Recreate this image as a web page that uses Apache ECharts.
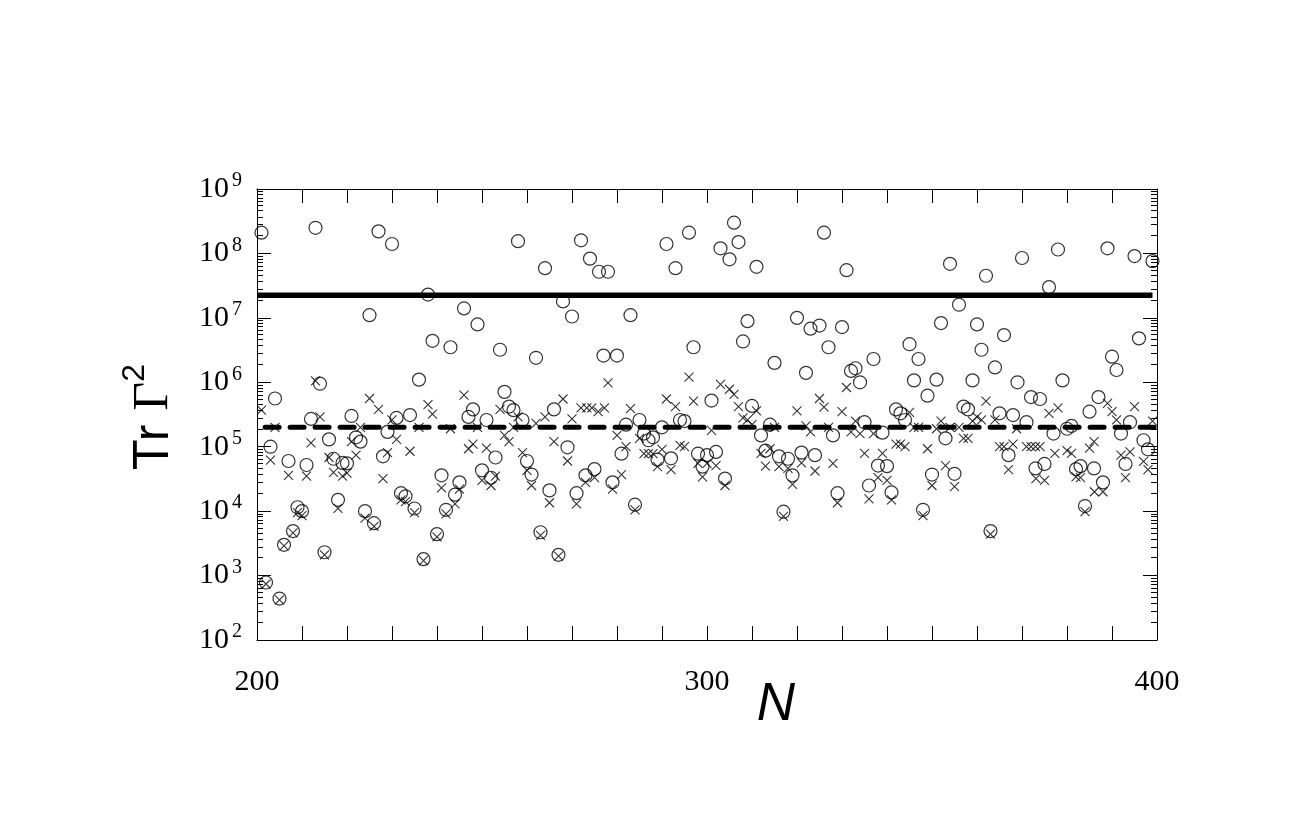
<!DOCTYPE html>
<html>
<head>
<meta charset="utf-8">
<script src="https://cdn.jsdelivr.net/npm/echarts@6/dist/echarts.min.js"></script>
<style>html,body{margin:0;padding:0;background:#fff}</style>
</head>
<body>
<div id="main" style="width:1292px;height:834px"></div>
<script>
// labelled ticks on the N axis
var xLabels = [200, 300, 400];

// circles: [N, Tr Gamma^2]
var circles = [
  [201,2.1e8],[202,7.8e2],[203,1.0e5],[204,5.6e5],[205,4.4e2],[206,3.0e3],[207,6.0e4],[208,4.9e3],[209,1.15e4],[210,1.0e4],
  [211,5.2e4],[212,2.7e5],[213,2.5e8],[214,9.5e5],[215,2.3e3],[216,1.3e5],[217,6.5e4],[218,1.5e4],[219,5.6e4],[220,5.5e4],
  [221,3.0e5],[222,1.4e5],[223,1.2e5],[224,1.0e4],[225,1.1e7],[226,6.5e3],[227,2.2e8],[228,7.1e4],[229,1.7e5],[230,1.4e8],
  [231,2.8e5],[232,1.9e4],[233,1.7e4],[234,3.1e5],[235,1.1e4],[236,1.1e6],[237,1.8e3],[238,2.3e7],[239,4.4e6],[240,4.4e3],
  [241,3.6e4],[242,1.05e4],[243,3.5e6],[244,1.8e4],[245,2.8e4],[246,1.4e7],[247,2.9e5],[248,3.8e5],[249,7.9e6],[250,4.3e4],
  [251,2.6e5],[252,3.3e4],[253,6.8e4],[254,3.2e6],[255,7.1e5],[256,4.2e5],[257,3.7e5],[258,1.55e8],[259,2.6e5],[260,6.0e4],
  [261,3.7e4],[262,2.4e6],[263,4.7e3],[264,5.9e7],[265,2.1e4],[266,3.8e5],[267,2.1e3],[268,1.8e7],[269,9.8e4],[270,1.05e7],
  [271,1.9e4],[272,1.6e8],[273,3.6e4],[274,8.3e7],[275,4.5e4],[276,5.2e7],[277,2.6e6],[278,5.2e7],[279,2.8e4],[280,2.6e6],
  [281,7.8e4],[282,2.2e5],[283,1.1e7],[284,1.26e4],[285,2.6e5],[286,1.6e5],[287,1.26e5],[288,1.4e5],[289,6.3e4],[290,2.0e5],
  [291,1.4e8],[292,6.6e4],[293,5.9e7],[294,2.6e5],[295,2.5e5],[296,2.1e8],[297,3.5e6],[298,7.8e4],[299,4.9e4],[300,7.4e4],
  [301,5.2e5],[302,8.3e4],[303,1.2e8],[304,3.2e4],[305,8.1e7],[306,3.0e8],[307,1.5e8],[308,4.3e6],[309,8.9e6],[310,4.3e5],
  [311,6.2e7],[312,1.5e5],[313,8.7e4],[314,2.2e5],[315,2.0e6],[316,7.1e4],[317,9.8e3],[318,6.5e4],[319,3.6e4],[320,1.0e7],
  [321,8.1e4],[322,1.4e6],[323,6.8e6],[324,7.4e4],[325,7.6e6],[326,2.1e8],[327,3.5e6],[328,1.5e5],[329,1.9e4],[330,7.2e6],
  [331,5.5e7],[332,1.5e6],[333,1.65e6],[334,1.0e6],[335,2.4e5],[336,2.5e4],[337,2.3e6],[338,5.1e4],[339,1.65e5],[340,5.0e4],
  [341,1.95e4],[342,3.8e5],[343,3.3e5],[344,2.6e5],[345,3.9e6],[346,1.07e6],[347,2.3e6],[348,1.05e4],[349,6.2e5],[350,3.7e4],
  [351,1.1e6],[352,8.3e6],[353,1.35e5],[354,6.9e7],[355,3.8e4],[356,1.6e7],[357,4.2e5],[358,3.8e5],[359,1.07e6],[360,7.9e6],
  [361,3.2e6],[362,4.5e7],[363,4.9e3],[364,1.7e6],[365,3.3e5],[366,5.4e6],[367,7.4e4],[368,3.1e5],[369,1.0e6],[370,8.5e7],
  [371,2.4e5],[372,5.9e5],[373,4.6e4],[374,5.5e5],[375,5.4e4],[376,3.0e7],[377,1.6e5],[378,1.15e8],[379,1.07e6],[380,1.9e5],
  [381,2.1e5],[382,4.5e4],[383,5.0e4],[384,1.2e4],[385,3.5e5],[386,4.6e4],[387,5.9e5],[388,2.8e4],[389,1.2e8],[390,2.5e6],
  [391,1.55e6],[392,1.6e5],[393,5.4e4],[394,2.4e5],[395,9.1e7],[396,4.8e6],[397,1.26e5],[398,9.1e4],[399,7.6e7]
];

// crosses: [N, Tr Gamma^2]
var crosses = [
  [201,3.7e5],[202,7.4e2],[203,6.2e4],[204,2.0e5],[205,4.2e2],[206,2.9e3],[207,3.6e4],[208,4.6e3],[209,9.5e3],[210,8.5e3],
  [211,3.5e4],[212,1.15e5],[213,1.05e6],[214,2.9e5],[215,2.1e3],[216,6.8e4],[217,4.0e4],[218,1.1e4],[219,3.5e4],[220,3.9e4],
  [221,1.2e5],[222,7.4e4],[223,2.0e5],[224,7.8e3],[225,5.6e5],[226,5.8e3],[227,3.8e5],[228,3.2e4],[229,8.1e4],[230,2.6e5],
  [231,1.3e5],[232,1.5e4],[233,1.4e4],[234,8.5e4],[235,9.5e3],[236,2.0e5],[237,1.7e3],[238,4.5e5],[239,3.2e5],[240,4.0e3],
  [241,2.3e4],[242,9.1e3],[243,1.9e5],[244,1.3e4],[245,2.2e4],[246,6.3e5],[247,9.3e4],[248,1.1e5],[249,2.0e5],[250,3.0e4],
  [251,9.5e4],[252,2.5e4],[253,3.5e4],[254,3.8e5],[255,1.5e5],[256,1.2e5],[257,2.0e5],[258,2.9e5],[259,8.1e4],[260,4.3e4],
  [261,2.5e4],[262,2.3e5],[263,4.2e3],[264,2.9e5],[265,1.35e4],[266,1.2e5],[267,2.0e3],[268,5.5e5],[269,6.0e4],[270,2.7e5],
  [271,1.3e4],[272,4.0e5],[273,2.8e4],[273.3,4.0e5],[274.4,4.0e5],[275,3.3e4],[275.8,3.5e5],[277.2,4.0e5],[278,9.8e5],[279,2.2e4],
  [280,1.5e5],[281,3.7e4],[282,1.0e5],[283,3.9e5],[284,1.05e4],[285,1.35e5],[286,7.8e4],[287,7.8e4],[288,7.8e4],[289,4.9e4],
  [290,9.1e4],[291,5.5e5],[292,4.4e4],[293,4.2e5],[294,1.05e5],[295,1.0e5],[296,1.2e6],[297,5.1e5],[298,5.5e4],[299,3.4e4],
  [300,5.5e4],[301,1.8e5],[302,5.1e4],[303,9.3e5],[304,2.5e4],[305,7.8e5],[306,6.5e5],[307,4.2e5],[308,2.8e5],[309,2.6e5],
  [310,2.2e5],[311,3.6e5],[312,7.9e4],[313,5.0e4],[314,9.3e4],[315,2.0e5],[316,4.9e4],[317,8.3e3],[318,4.6e4],[319,2.6e4],
  [320,3.6e5],[321,5.6e4],[322,2.1e5],[323,1.7e5],[324,4.2e4],[325,5.6e5],[326,4.1e5],[327,2.0e5],[328,5.5e4],[329,1.35e4],
  [330,3.5e5],[331,8.3e5],[332,1.7e5],[333,2.5e5],[334,1.6e5],[335,7.9e4],[336,1.55e4],[337,1.6e5],[338,3.3e4],[339,7.9e4],
  [340,3.0e4],[341,1.5e4],[342,1.1e5],[343,1.1e5],[344,1.0e5],[345,3.4e5],[346,2.0e5],[347,2.0e5],[348,8.5e3],[349,9.3e4],
  [350,2.5e4],[351,1.9e5],[352,2.5e5],[353,5.1e4],[354,2.0e5],[355,2.4e4],[356,2.0e5],[357,1.35e5],[358,1.35e5],[359,2.5e5],
  [360,2.9e5],[361,2.6e5],[362,5.1e5],[363,4.4e3],[364,2.6e5],[365,1.0e5],[366,1.0e5],[367,4.4e4],[368,1.1e5],[368.8,1.9e5],
  [371,1.0e5],[372,1.0e5],[373,1.0e5],[373.1,3.2e4],[374,1.0e5],[375,3.0e4],[376,3.3e5],[377.3,7.9e4],[378,4.0e5],[380,8.7e4],
  [381,7.9e4],[382,3.4e4],[383,3.3e4],[384,9.8e3],[385,9.5e4],[386,1.2e5],[386.1,2.0e4],[388,2.0e4],[389,4.7e5],[390,3.5e5],
  [391,2.6e5],[392,7.4e4],[393,3.3e4],[394,8.3e4],[395,4.2e5],[397,5.9e4],[398,4.4e4],[399,2.5e5]
];

// horizontal reference levels
var solidLevel = 2.25e7;
var solidSpan = [200, 399];
var dashedLevel = 2.0e5;
var dashedSpan = [201.8, 400];

var myChart = echarts.init(document.getElementById('main'));

var serif = 'Liberation Serif';
var xAxisBase = {
    type: 'value', min: 200, max: 400, interval: 10,
    axisLine: {show: true, onZero: false, lineStyle: {color: '#000', width: 1}},
    axisTick: {inside: true, length: 14, lineStyle: {color: '#000', width: 1}},
    splitLine: {show: false}
};
var yAxisBase = {
    type: 'log', logBase: 10, min: 100, max: 1e9, splitNumber: 7,
    axisLine: {show: true, lineStyle: {color: '#000', width: 1}},
    axisTick: {inside: true, length: 14, lineStyle: {color: '#000', width: 1}},
    minorTick: {show: true, splitNumber: 10, length: 6, lineStyle: {color: '#000', width: 1}},
    splitLine: {show: false},
    minorSplitLine: {show: false}
};

var option = {
    animation: false,
    backgroundColor: '#fff',
    grid: {left: 257, right: 135, top: 189, bottom: 194},
    xAxis: [
        Object.assign({}, xAxisBase, {
            position: 'bottom',
            axisLabel: {
                color: '#000', fontFamily: serif, fontSize: 30, margin: 27,
                formatter: function (v) { return xLabels.indexOf(v) >= 0 ? String(v) : ''; }
            }
        }),
        Object.assign({}, xAxisBase, {position: 'top', axisLabel: {show: false}})
    ],
    yAxis: [
        Object.assign({}, yAxisBase, {
            position: 'left',
            axisLabel: {
                margin: 15,
                formatter: function (v) {
                    var e = Math.round(Math.log(v) / Math.LN10);
                    return '{b|10}{s|' + e + '}';
                },
                rich: {
                    b: {fontFamily: serif, fontSize: 30, color: '#000', padding: [3, 0, 3, 0]},
                    s: {fontFamily: serif, fontSize: 20, color: '#000', verticalAlign: 'top', padding: [0, 0, 0, 3]}
                }
            }
        }),
        Object.assign({}, yAxisBase, {position: 'right', axisLabel: {show: false}})
    ],
    graphic: [
        {
            type: 'text', x: 149, y: 417, rotation: Math.PI / 2,
            style: {
                text: '{a|Tr }{g|Γ}{b|2}',
                align: 'center', verticalAlign: 'middle',
                rich: {
                    a: {fontFamily: 'Liberation Sans', fontSize: 50, fill: '#000', padding: [10, 0, 0, 0]},
                    g: {fontFamily: serif, fontSize: 50, fill: '#000', padding: [10, 0, 0, 0]},
                    b: {fontFamily: 'Liberation Sans', fontSize: 32, fill: '#000', verticalAlign: 'top'}
                }
            }
        },
        {
            type: 'text', x: 776, y: 705,
            style: {
                text: 'N', fontFamily: 'Liberation Sans', fontStyle: 'italic', fontSize: 53, fill: '#000',
                align: 'center', verticalAlign: 'middle'
            }
        }
    ],
    series: [
        {
            type: 'scatter', data: circles, symbol: 'circle', symbolSize: 13, silent: true,
            itemStyle: {color: 'rgba(0,0,0,0)', borderColor: '#000', borderWidth: 1.2}
        },
        {
            type: 'scatter', data: crosses, symbol: 'path://M0,0L10,10M10,0L0,10', symbolSize: 9, silent: true,
            itemStyle: {color: 'rgba(0,0,0,0)', borderColor: '#000', borderWidth: 1.1}
        },
        {
            type: 'line', data: [[solidSpan[0], solidLevel], [solidSpan[1], solidLevel]],
            symbol: 'none', silent: true, z: 5,
            lineStyle: {color: '#000', width: 5.5}
        },
        {
            type: 'line', data: [[dashedSpan[0], dashedLevel], [dashedSpan[1], dashedLevel]],
            symbol: 'none', silent: true, z: 5,
            lineStyle: {color: '#000', width: 5, type: [14, 11], cap: 'round'}
        }
    ]
};

myChart.setOption(option);
</script>
</body>
</html>
